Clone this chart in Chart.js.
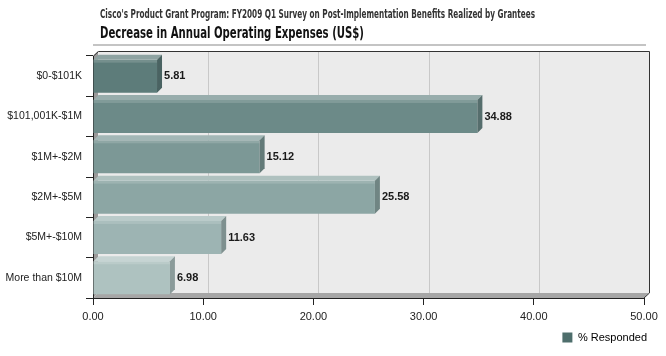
<!DOCTYPE html>
<html>
<head>
<meta charset="utf-8">
<script src="https://cdn.jsdelivr.net/npm/chart.js@4.4.1/dist/chart.umd.min.js"></script>
<style>
  html, body { margin: 0; padding: 0; background: #fff; }
  #wrap { width: 666px; height: 356px; position: relative; }
</style>
</head>
<body>
<div id="wrap"><canvas id="grafico"></canvas></div>
<script>
// datos
var categorias = ["$0-$101K", "$101,001K-$1M", "$1M+-$2M", "$2M+-$5M", "$5M+-$10M", "More than $10M"];
var valores = [5.81, 34.88, 15.12, 25.58, 11.63, 6.98];
var coloresBarra = ["#5d7c7a", "#6c8a88", "#7c9896", "#8ca6a4", "#9db4b3", "#aec2c0"];
var nombreSerie = "% Responded";
var subtitulo = "Cisco's Product Grant Program: FY2009 Q1 Survey on Post-Implementation Benefits Realized by Grantees";
var titulo = "Decrease in Annual Operating Expenses (US$)";

var prof = 5; // profundidad 3D

function ajusta(hex, f) {
  var r = parseInt(hex.substr(1, 2), 16), g = parseInt(hex.substr(3, 2), 16), b = parseInt(hex.substr(5, 2), 16);
  if (f > 0) {
    r = r + (255 - r) * f; g = g + (255 - g) * f; b = b + (255 - b) * f;
  } else {
    r = r * (1 + f); g = g * (1 + f); b = b * (1 + f);
  }
  return "rgb(" + Math.round(r) + "," + Math.round(g) + "," + Math.round(b) + ")";
}

function textoAncho(ctx, txt, x, y, ancho, fuente) {
  ctx.save();
  ctx.font = fuente;
  var w = ctx.measureText(txt).width;
  ctx.translate(x, y);
  ctx.scale(ancho / w, 1);
  ctx.fillText(txt, 0, 0);
  ctx.restore();
}

var efecto3d = {
  id: "efecto3d",
  afterLayout: function(chart) {
    // la leyenda va un poco mas a la derecha que el area del grafico
    if (chart.legend) { chart.legend.left += 7; chart.legend.right += 7; }
  },
  beforeDraw: function(chart) {
    var ctx = chart.ctx, a = chart.chartArea, xs = chart.scales.x;
    ctx.save();
    ctx.fillStyle = "#fff";
    ctx.fillRect(0, 0, chart.width, chart.height);
    // titulos
    ctx.fillStyle = "#333";
    ctx.textBaseline = "alphabetic";
    textoAncho(ctx, subtitulo, 100, 18, 435, "bold 12px 'Liberation Sans Narrow', 'DejaVu Sans Condensed', sans-serif");
    ctx.fillStyle = "#111";
    textoAncho(ctx, titulo, 100, 38, 264, "bold 16px 'Liberation Sans Narrow', 'DejaVu Sans Condensed', sans-serif");
    ctx.fillStyle = "#c4c4c4";
    ctx.fillRect(93, 44, 553, 2);
    // pared del fondo
    ctx.fillStyle = "#ebebeb";
    ctx.fillRect(a.left + prof, a.top - prof, a.right - a.left, a.bottom - a.top);
    // pared izquierda
    ctx.fillStyle = "#9a9a9a";
    ctx.beginPath();
    ctx.moveTo(a.left, a.top); ctx.lineTo(a.left + prof, a.top - prof);
    ctx.lineTo(a.left + prof, a.bottom - prof); ctx.lineTo(a.left, a.bottom);
    ctx.closePath(); ctx.fill();
    // lineas de la rejilla
    ctx.strokeStyle = "#c8c8c8";
    ctx.lineWidth = 1;
    xs.ticks.forEach(function(t) {
      var px = Math.round(xs.getPixelForValue(t.value)) + prof + 0.5;
      if (t.value === 0 || t.value === 50) return;
      ctx.beginPath();
      ctx.moveTo(px, a.top - prof); ctx.lineTo(px, a.bottom - prof);
      ctx.stroke();
    });
    // suelo
    ctx.fillStyle = "#a6a6a6";
    ctx.beginPath();
    ctx.moveTo(a.left, a.bottom); ctx.lineTo(a.left + prof, a.bottom - prof);
    ctx.lineTo(a.right + prof, a.bottom - prof); ctx.lineTo(a.right, a.bottom);
    ctx.closePath(); ctx.fill();
    // bordes
    ctx.strokeStyle = "#333";
    ctx.beginPath();
    ctx.moveTo(a.left + 0.5, a.top); ctx.lineTo(a.left + prof + 0.5, a.top - prof + 0.5);
    ctx.lineTo(a.right + prof + 0.5, a.top - prof + 0.5);
    ctx.lineTo(a.right + prof + 0.5, a.bottom - prof);
    ctx.lineTo(a.right, a.bottom);
    ctx.stroke();
    ctx.restore();
  },
  afterDatasetsDraw: function(chart) {
    var ctx = chart.ctx;
    var meta = chart.getDatasetMeta(0);
    ctx.save();
    meta.data.forEach(function(bar, i) {
      var p = bar.getProps(["x", "y", "base", "height"], true);
      var top = p.y - p.height / 2, bot = p.y + p.height / 2;
      var c = coloresBarra[i];
      // cara de arriba
      ctx.fillStyle = ajusta(c, 0.3);
      ctx.beginPath();
      ctx.moveTo(p.base, top); ctx.lineTo(p.base + prof, top - prof);
      ctx.lineTo(p.x + prof, top - prof); ctx.lineTo(p.x, top);
      ctx.closePath(); ctx.fill();
      // cara lateral
      ctx.fillStyle = ajusta(c, -0.2);
      ctx.beginPath();
      ctx.moveTo(p.x, top); ctx.lineTo(p.x + prof, top - prof);
      ctx.lineTo(p.x + prof, bot - prof); ctx.lineTo(p.x, bot);
      ctx.closePath(); ctx.fill();
      // franja clara bajo la cara de arriba
      ctx.fillStyle = "rgba(255,255,255,0.15)";
      ctx.fillRect(p.base, top, p.x - p.base, 3);
      // etiqueta
      ctx.fillStyle = "#1a1a1a";
      ctx.font = "bold 11px 'Liberation Sans', Arial, sans-serif";
      ctx.textAlign = "left";
      ctx.textBaseline = "middle";
      ctx.fillText(valores[i].toFixed(2), p.x + prof + 2, p.y);
    });
    ctx.restore();
  }
};

var ctx = document.getElementById("grafico").getContext("2d");
var chart = new Chart(ctx, {
  type: "bar",
  plugins: [efecto3d],
  data: {
    labels: categorias,
    datasets: [{
      label: nombreSerie,
      data: valores,
      backgroundColor: coloresBarra,
      borderWidth: 0,
      categoryPercentage: 1,
      barPercentage: 0.82
    }]
  },
  options: {
    indexAxis: "y",
    responsive: true,
    maintainAspectRatio: false,
    animation: false,
    layout: { padding: { left: 0, right: 22, top: 56, bottom: 3 } },
    plugins: {
      title: { display: false },
      tooltip: { enabled: false },
      legend: {
        position: "bottom",
        align: "end",
        labels: {
          boxWidth: 10,
          boxHeight: 10,
          padding: 4,
          color: "#222",
          font: { family: "'Liberation Sans', Arial, sans-serif", size: 11 },
          generateLabels: function() {
            return [{ text: nombreSerie, fillStyle: "#4e6e6c", strokeStyle: "#4e6e6c", lineWidth: 0 }];
          }
        }
      }
    },
    scales: {
      x: {
        min: 0,
        max: 50,
        ticks: {
          stepSize: 10,
          padding: 5,
          color: "#222",
          font: { family: "'Liberation Sans', Arial, sans-serif", size: 11 },
          callback: function(v) { return v.toFixed(2); }
        },
        grid: { drawOnChartArea: false, drawTicks: true, tickLength: 7, color: "#222" },
        border: { display: true, color: "#222", width: 1 },
        afterFit: function(s) { s.height = 30; }
      },
      y: {
        ticks: {
          padding: 4,
          color: "#222",
          font: { family: "'Liberation Sans', Arial, sans-serif", size: 10.5 }
        },
        grid: { drawOnChartArea: false, drawTicks: true, tickLength: 7, color: "#222" },
        border: { display: true, color: "#222", width: 1 },
        afterFit: function(s) { s.width = 93; }
      }
    }
  }
});
</script>
</body>
</html>
